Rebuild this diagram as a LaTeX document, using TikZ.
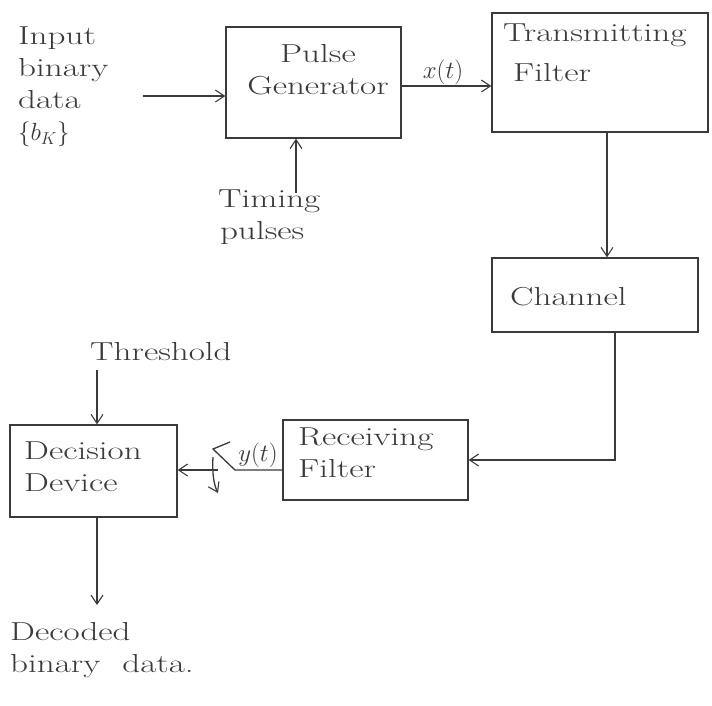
\documentclass[tikz,border=0pt]{standalone}
\usepackage{fontspec}
\usetikzlibrary{arrows.meta}
\newfontfamily\handfont{Latin Modern Roman}[FakeStretch=1.35]
\definecolor{ink}{HTML}{3A3A3A}
\begin{document}
\begin{tikzpicture}[x=1pt,y=-1pt,
  ink line/.style={draw=ink,line width=1.3pt},
  arr/.style={ink line,-{Straight Barb[length=9pt,width=12pt,line width=1.1pt]}},
  blk/.style={ink line,rectangle,inner sep=0pt},
  txt/.style={text=ink,font=\handfont\fontsize{26}{32}\selectfont,inner sep=0pt,align=left},
  small/.style={text=ink,font=\handfont\fontsize{24}{28}\selectfont,inner sep=0pt}]
\useasboundingbox[fill=white] (0,0) rectangle (712,705);

% blocks
\node[blk,minimum width=175pt,minimum height=111pt] (pg) at (313.5,82.5) {};
\node[blk,minimum width=216pt,minimum height=119pt] (tf) at (600,72.5) {};
\node[blk,minimum width=206pt,minimum height=74pt] (ch) at (595,295) {};
\node[blk,minimum width=185pt,minimum height=80pt] (rf) at (375.5,460) {};
\node[blk,minimum width=167pt,minimum height=92pt] (dd) at (93.5,471) {};

% block texts
\node[txt,align=center] (pgt) at (318,70) {Pulse\\Generator};
\node[txt,anchor=north west] (tft) at (503,24) {Transmitting\\[8pt]\hspace*{10pt}Filter};
\node[txt,anchor=west] (cht) at (510,297) {Channel};
\node[txt,anchor=north west] (rft) at (298,428) {Receiving\\Filter};
\node[txt,anchor=north west] (ddt) at (24,442) {Decision\\Device};

% free texts
\node[txt,anchor=north west] (inp) at (18,27) {Input\\binary\\data\\$\{b_K\}$};
\node[txt,anchor=north west] (tim) at (218,190) {Timing\\\hspace*{2pt}pulses};
\node[txt,anchor=west] (thr) at (90,352) {Threshold};
\node[txt,anchor=north west] (dec) at (10,622) {Decoded\\binary\hspace{22pt}data.};
\node[small] (xl) at (443,72) {$x(t)$};
\node[small] (yl) at (258,455) {$y(t)$};

% end points and switch geometry
\coordinate (inS) at (143,96);
\coordinate (tpS) at (296,193);
\coordinate (thS) at (97,370);
\coordinate (outE) at (97,605);
\coordinate (sw) at (235,470);
\coordinate (sp) at (213,449);
\coordinate (st) at (230,442);
\coordinate (sa) at (218,470);
\coordinate (ca) at (213,457);
\coordinate (cb) at (218,493);

% connectors
\draw[arr] (inS) -- (inS -| pg.west);
\draw[arr] ([yshift=-3.5pt]pg.east) -- ([yshift=-3.5pt]pg.east -| tf.west);
\draw[arr] (tpS) -- (tpS |- pg.south);
\draw[arr] ([xshift=7pt]tf.south) -- ([xshift=7pt]tf.south |- ch.north);
\draw[arr] ([xshift=20pt]ch.south) |- (rf.east);
\draw[ink line] ([yshift=-10pt]rf.west) -- (sw) -- (sp) -- (st);
\draw[arr] (sa) -- (sa -| dd.east);
\draw[arr] (ca) .. controls (212,474) and (214,485) .. (cb);
\draw[arr] (thS) -- (thS |- dd.north);
\draw[arr] (thS |- dd.south) -- (outE);
\end{tikzpicture}
\end{document}
